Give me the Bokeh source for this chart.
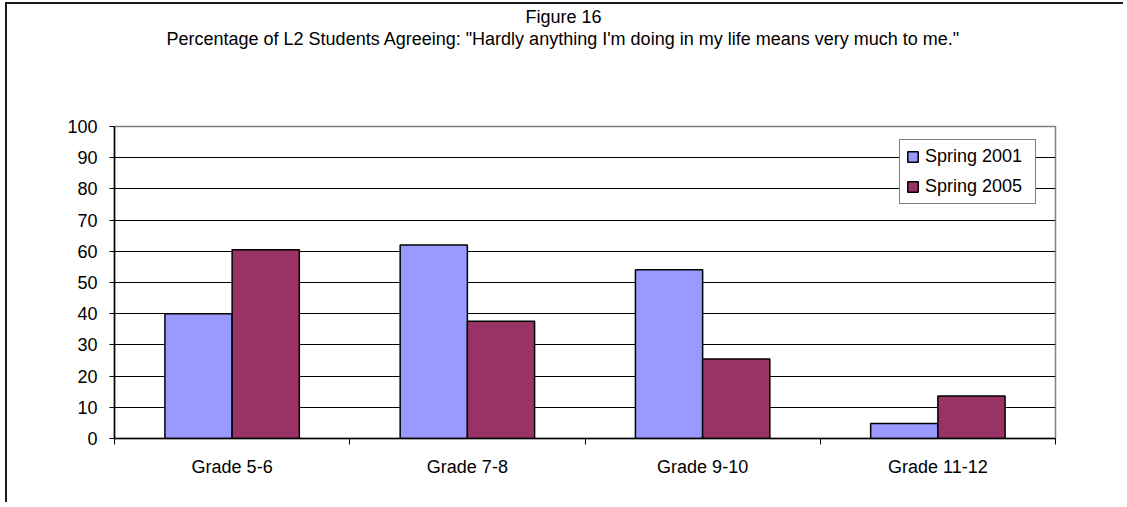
from bokeh.plotting import figure
from bokeh.models import (Range1d, FixedTicker, ColumnDataSource,
                          Legend, LegendItem, Title)
from bokeh.embed import file_html
from bokeh.resources import INLINE

# ---- data ----
categories = ["Grade 5-6", "Grade 7-8", "Grade 9-10", "Grade 11-12"]
spring_2001 = [40.0, 62.0, 54.1, 4.8]
spring_2005 = [60.5, 37.6, 25.5, 13.6]
series_names = ["Spring 2001", "Spring 2005"]
y_ticks = [0, 10, 20, 30, 40, 50, 60, 70, 80, 90, 100]
title_line1 = "Figure 16"
title_line2 = 'Percentage of L2 Students Agreeing: "Hardly anything I\'m doing in my life means very much to me."'

FONT = "Liberation Sans"
FS = "18px"
W, H = 1118, 500
BW = 1 / 3.5

n = len(categories)
centers = [i + 0.5 for i in range(n)]
bounds = list(range(n + 1))
src = ColumnDataSource(dict(
    x1=[c - BW / 2 for c in centers], x2=[c + BW / 2 for c in centers],
    s2001=spring_2001, s2005=spring_2005))

p = figure(width=W, height=H,
           x_range=Range1d(0, n), y_range=Range1d(0, 100),
           output_backend="svg", toolbar_location=None, title=title_line1,
           min_border_left=107, min_border_right=W - 107 - 941,
           min_border_top=122, min_border_bottom=66)
p.styles = {"margin-left": "5px", "margin-top": "2px",
            "border-left": "2px solid #1a1a1a", "border-top": "2px solid #1a1a1a"}
p.background_fill_color = "white"
p.border_fill_color = "white"
p.outline_line_color = "#808080"
p.outline_line_width = 1.5

r1 = p.vbar(x="x1", top="s2001", width=BW, source=src,
            fill_color="#9999FF", line_color="#000000", line_width=1.5)
r2 = p.vbar(x="x2", top="s2005", width=BW, source=src,
            fill_color="#993366", line_color="#000000", line_width=1.5)

# x axis: tick marks at category boundaries, labels at centres
xaxis = p.xaxis[0]
xaxis.ticker = FixedTicker(ticks=centers, minor_ticks=bounds)
xaxis.major_label_overrides = {c: name for c, name in zip(centers, categories)}
xaxis.major_tick_line_color = None
xaxis.major_tick_out = 0
xaxis.major_tick_in = 0
xaxis.minor_tick_out = 6
xaxis.minor_tick_in = 0
xaxis.minor_tick_line_color = "black"
xaxis.axis_line_color = "black"
xaxis.axis_line_width = 1.5
xaxis.major_label_standoff = 12
xaxis.major_label_text_font = FONT
xaxis.major_label_text_font_size = FS
xaxis.major_label_text_color = "black"

yaxis = p.yaxis[0]
yaxis.ticker = FixedTicker(ticks=y_ticks)
yaxis.major_tick_out = 5
yaxis.major_tick_in = 0
yaxis.minor_tick_line_color = None
yaxis.axis_line_color = "black"
yaxis.axis_line_width = 1.5
yaxis.major_label_standoff = 12
yaxis.major_label_text_font = FONT
yaxis.major_label_text_font_size = FS
yaxis.major_label_text_color = "black"

p.xgrid.visible = False
p.ygrid.ticker = FixedTicker(ticks=y_ticks[1:-1])
p.ygrid.grid_line_color = "#000000"
p.ygrid.grid_line_width = 1

legend = Legend(items=[LegendItem(label=series_names[0], renderers=[r1]),
                       LegendItem(label=series_names[1], renderers=[r2])],
                location=(785, 234))
legend.label_text_font = FONT
legend.label_text_font_size = FS
legend.label_text_color = "black"
legend.glyph_width = 13
legend.glyph_height = 13
legend.label_standoff = 6
legend.label_width = 104
legend.padding = 6
legend.spacing = 9
legend.margin = 0
legend.border_line_color = "black"
legend.border_line_width = 1
legend.background_fill_color = "white"
legend.background_fill_alpha = 1
p.add_layout(legend)

# titles: line 1 (figure title, outermost), line 2 below it, spacer next to the plot area
p.title.align = "left"
p.title.offset = 411
p.title.standoff = 0
p.title.text_font = FONT
p.title.text_font_size = FS
p.title.text_font_style = "normal"
p.title.text_color = "black"

spacer = Title(text=" ", align="left", standoff=56,
               text_font=FONT, text_font_size=FS, text_color="white")
p.add_layout(spacer, "above")
t2 = Title(text=title_line2, align="left", offset=52, standoff=0,
           text_font=FONT, text_font_size=FS, text_font_style="normal", text_color="black")
p.add_layout(t2, "above")

open("out.html", "w").write(file_html(p, INLINE))
